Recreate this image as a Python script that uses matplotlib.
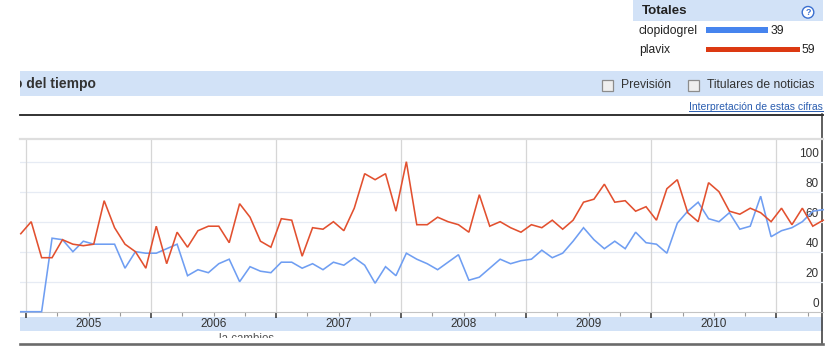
import matplotlib
matplotlib.use('Agg')
import matplotlib.pyplot as plt
from matplotlib.patches import Rectangle, Circle
import numpy as np

plt.rcParams['font.family'] = ['Liberation Sans', 'DejaVu Sans']

W, H = 829, 355

# ---------------- data ----------------
terms = ['clopidogrel', 'plavix']
totals = [39, 59]
bar_colors = ['#4684ee', '#dc3912']
line_colors = ['#6f9ef2', '#e2502f']

# monthly values, Dec 2004 ... Jun 2011
first_year, first_month = 2004, 12
clopidogrel = [0, 0, 0, 49, 48, 40, 47, 45, 45, 45, 29, 40,
               39, 39, 42, 45, 24, 28, 26, 32, 35, 20, 30, 27,
               26, 33, 33, 29, 32, 28, 33, 31, 36, 31, 19, 30,
               24, 39, 35, 32, 28, 33, 38, 21, 23, 29, 35, 32,
               34, 35, 41, 36, 39, 47, 56, 48, 42, 47, 42, 53,
               46, 45, 39, 59, 67, 73, 62, 60, 66, 55, 57, 77,
               50, 54, 56, 60, 67, 68]
plavix = [52, 60, 36, 36, 48, 45, 44, 45, 74, 56, 45, 40,
          29, 57, 32, 53, 43, 54, 57, 57, 46, 72, 63, 47,
          43, 62, 61, 37, 56, 55, 60, 54, 69, 92, 88, 92,
          67, 100, 58, 58, 63, 60, 58, 53, 78, 57, 60, 56,
          53, 58, 56, 61, 55, 61, 73, 75, 85, 73, 74, 67,
          70, 61, 82, 88, 66, 60, 86, 80, 67, 65, 69, 66,
          60, 69, 58, 69, 57, 61]
year_labels = ['2005', '2006', '2007', '2008', '2009', '2010']
year_lines = [2005, 2006, 2007, 2008, 2009, 2010, 2011]
y_ticks = [0, 20, 40, 60, 80, 100]

# decimal-year position of each month (middle of month)
n = len(plavix)
months = [(first_year + (first_month - 1 + i) // 12, (first_month - 1 + i) % 12 + 1)
          for i in range(n)]
xs = [y + (m - 0.5) / 12.0 for (y, m) in months]

fig = plt.figure(figsize=(W / 100, H / 100), dpi=100)

# overlay axes in pixel coordinates
ov = fig.add_axes([0, 0, 1, 1])
ov.set_xlim(0, W)
ov.set_ylim(H, 0)
ov.axis('off')
ov.set_zorder(0)

band = '#d2e2f7'
txt = '#333333'

# Totales box
ov.add_patch(Rectangle((633, 0), 190, 20.7, facecolor=band, edgecolor='none'))
ov.text(641.5, 10.5, 'Totales', fontsize=9.6, fontweight='bold', color='#222222',
        va='center', ha='left')
ov.add_patch(Circle((808, 12.3), 5.8, facecolor='white', edgecolor='#3a6fd0', lw=1.0))
ov.text(808, 12.6, '?', fontsize=6.5, fontweight='bold', color='#3a6fd0',
        ha='center', va='center')
ov.text(639, 31, terms[0], fontsize=8.7, color='#222222', va='center', ha='left')
ov.text(639, 50.5, terms[1], fontsize=8.7, color='#222222', va='center', ha='left')

# total bars
bax = fig.add_axes([706 / W, 1 - 60 / H, 110 / W, 40 / H])
px_per_unit = 94.0 / 59.0
bax.set_xlim(0, 110 / px_per_unit)
bax.set_ylim(60, 20)
bax.axis('off')
bar_y = [30, 49.5]
bax.barh(bar_y, totals, height=5.5, color=bar_colors, left=0)
for yy, v in zip(bar_y, totals):
    bax.text(v + 1.2, yy + 0.5, str(v), fontsize=8.7, color='#222222', va='center', ha='left')

# header band
hax = fig.add_axes([20 / W, 1 - 96 / H, 803 / W, 25 / H])
hax.set_xlim(20, 823)
hax.set_ylim(96, 71)
hax.set_facecolor(band)
for s in hax.spines.values():
    s.set_visible(False)
hax.set_xticks([])
hax.set_yticks([])
hax.text(14, 84, 'o del tiempo', fontsize=10, fontweight='bold', color='#333333',
         va='center', ha='left', clip_on=True)
for bx, label in [(602, 'Previsión'), (688.5, 'Titulares de noticias')]:
    hax.add_patch(Rectangle((bx, 79.5), 11, 11, facecolor='#efefef', edgecolor='#8c8c8c', lw=0.9))
    hax.text(bx + 19, 85, label, fontsize=8.7, color='#333333', va='center', ha='left')

# link
ov.text(689, 110.2, 'Interpretación de estas cifras', fontsize=7.5, color='#2a5db0',
        va='baseline', ha='left')
ov.plot([689, 823], [111.3, 111.3], color='#2a5db0', lw=0.7)

# frame
ov.plot([20, 823], [114.5, 114.5], color='#222222', lw=1.3)
ov.plot([822.5, 822.5], [114, 344], color='#333333', lw=1.1)

# year label band
ov.add_patch(Rectangle((20, 317.3), 803, 13.4, facecolor=band, edgecolor='none'))

# bottom fragment text (cropped) and line
ov.text(219, 342, 'la cambios', fontsize=8.3, color='#555555', ha='left', va='baseline',
        zorder=2)
ov.add_patch(Rectangle((200, 337.6), 120, 6, facecolor='white', edgecolor='none', zorder=3))
ov.plot([20, 823], [344, 344], color='#6b6b6b', lw=1.9, zorder=4)

# ---------------- main chart ----------------
left_px, right_px = 20, 823.2
top_px, bot_px = 139.3, 311.7
x_left = 2005 + (left_px - 26) / 125.05
x_right = 2005 + (right_px - 26) / 125.05
y_top = (bot_px - top_px) / 1.5

ax = fig.add_axes([left_px / W, 1 - bot_px / H, (right_px - left_px) / W, (bot_px - top_px) / H])
ax.set_zorder(2)
ax.patch.set_alpha(0)
ax.set_xlim(x_left, x_right)
ax.set_ylim(0, y_top)

for s in ['left', 'right']:
    ax.spines[s].set_visible(False)
ax.spines['top'].set_color('#dedede')
ax.spines['top'].set_linewidth(1.6)
ax.spines['bottom'].set_color('#c4c4c4')
ax.spines['bottom'].set_linewidth(0.8)

for v in y_ticks[1:]:
    ax.axhline(v, color='#e6ebf4', lw=0.9, zorder=0)
for yl in year_lines:
    ax.axvline(yl, color='#d6d6d6', lw=0.9, zorder=0)

ax.set_yticks([])
ax.set_xticks(year_lines)
quarters = [y + q for y in range(2005, 2012) for q in (0.25, 0.5, 0.75) if y + q < x_right]
ax.set_xticks(quarters, minor=True)
ax.tick_params(axis='x', which='major', direction='out', length=4.0, width=1.1,
               color='#333333', labelbottom=False)
ax.tick_params(axis='x', which='minor', direction='out', length=3.0, width=0.8,
               color='#9a9a9a', labelbottom=False)

# y labels at right (inside)
for v in y_ticks:
    ax.text(0.9948, v + 5, str(v), transform=ax.get_yaxis_transform(), fontsize=8.5,
            color=txt, ha='right', va='center', zorder=1)

# year labels
xt = ax.get_xaxis_transform()
for lab in year_labels:
    ax.text(int(lab) + 0.5, (bot_px - 324.2) / (bot_px - top_px), lab, transform=xt,
            fontsize=8.5, color='#333333', ha='center', va='center', clip_on=False)

ax.plot(xs, clopidogrel, color=line_colors[0], lw=1.15, zorder=3, clip_on=False,
        solid_joinstyle='miter')
ax.plot(xs, plavix, color=line_colors[1], lw=1.15, zorder=4, clip_on=False,
        solid_joinstyle='miter')

fig.savefig('out.png', dpi=100)
